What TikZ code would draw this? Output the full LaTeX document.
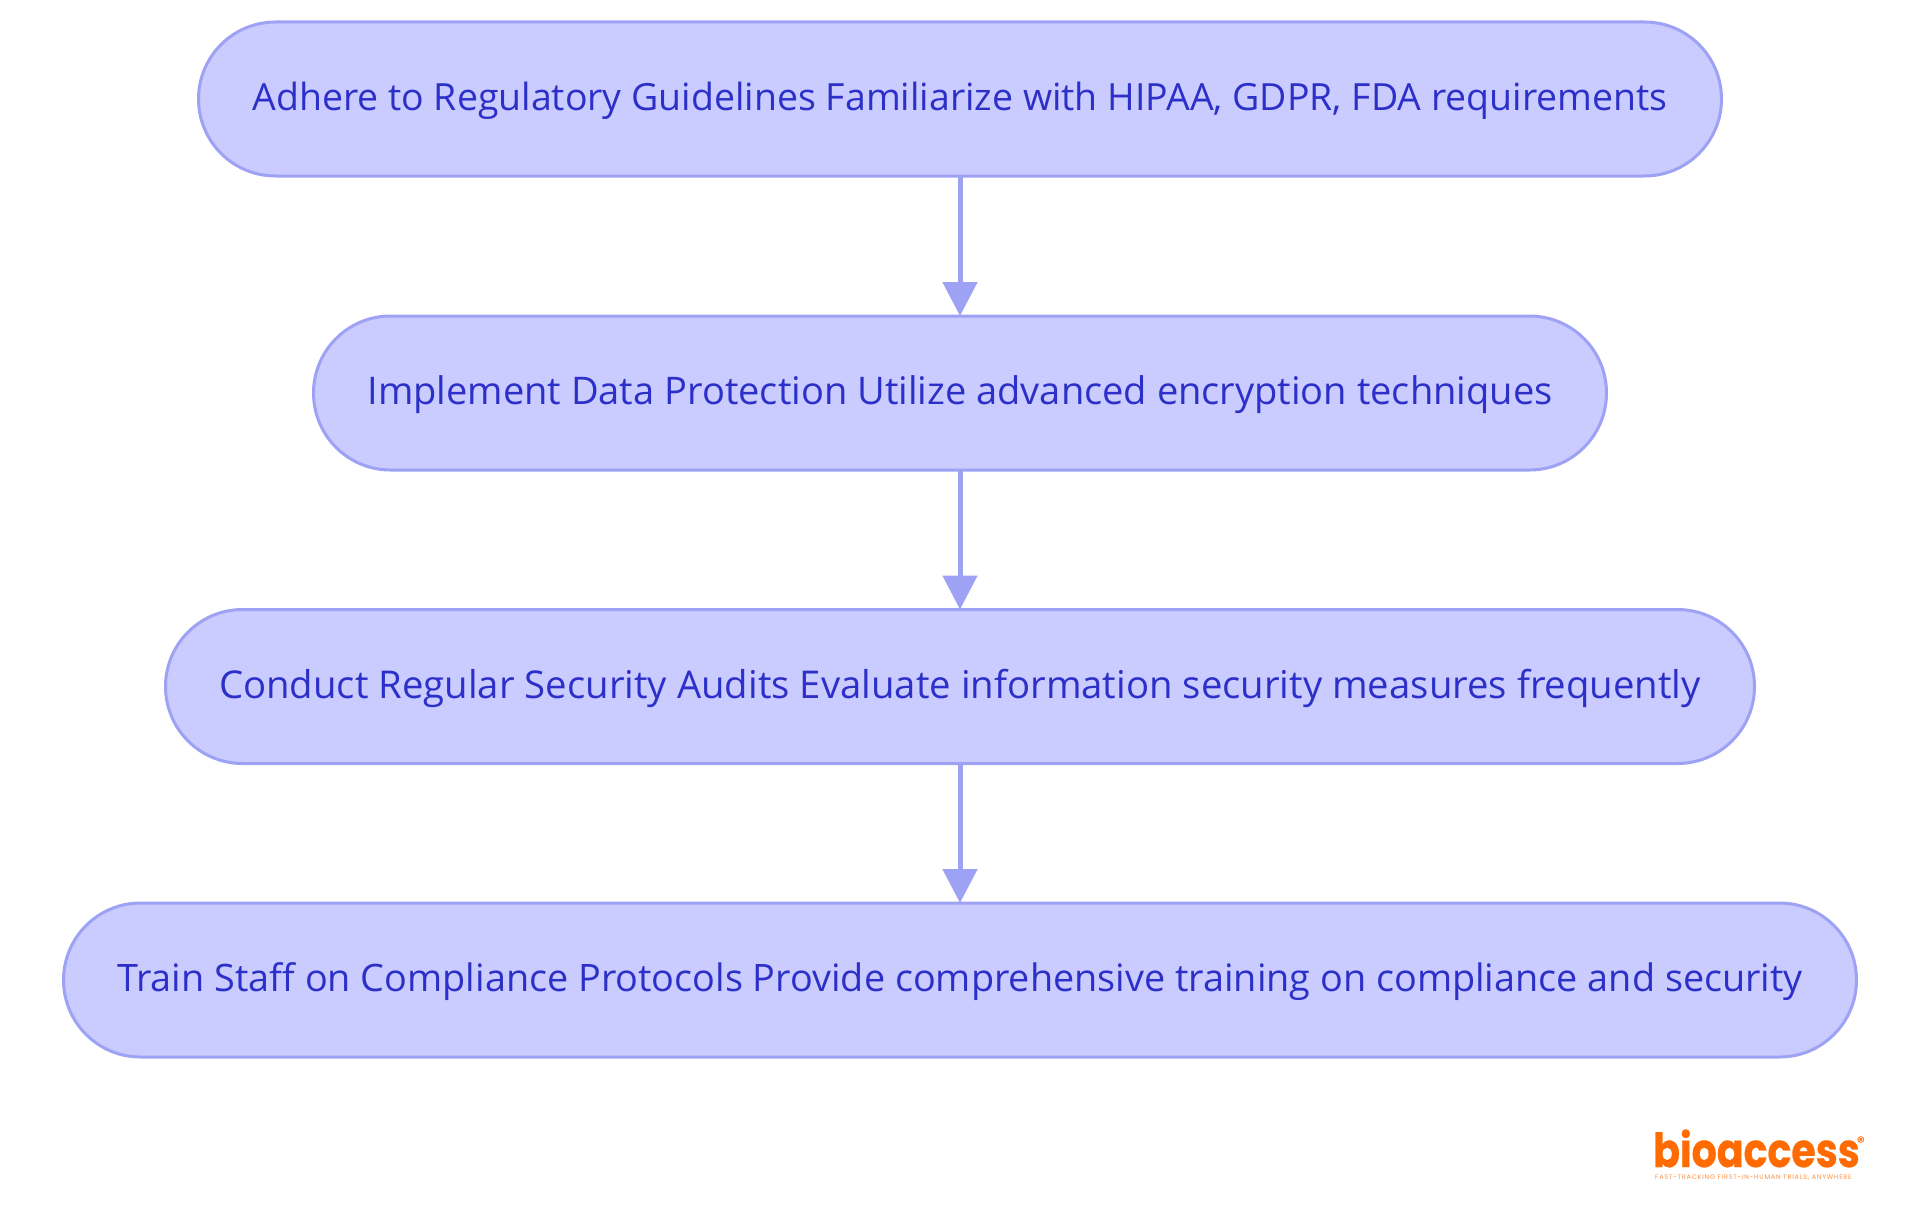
\documentclass[tikz,border=0pt]{standalone}
\usepackage{fontspec}
\setmainfont{Open Sans}
\newfontfamily\logofont[FakeStretch=0.84,BoldFeatures={FakeStretch=0.84,FakeBold=0.6}]{Poppins}
\newfontfamily\tagfont[LetterSpace=12]{Poppins}
\newfontfamily\regfont{Poppins}
\usetikzlibrary{arrows.meta,shapes.misc}
\definecolor{stadfill}{HTML}{CACBFE}
\definecolor{stadline}{HTML}{9EA2F4}
\definecolor{stadtext}{HTML}{2C30C8}
\definecolor{logoorange}{HTML}{FF6B00}
\tikzset{
  stad/.style={shape=rounded rectangle,rounded rectangle arc length=180,draw=stadline,fill=stadfill,line width=3pt,
    text=stadtext,outer sep=0pt,inner sep=0pt,minimum height=154pt,
    text height=28pt,text depth=5pt},
  stadsize/.style={font=\fontsize{#1}{45}\selectfont},
  flow/.style={draw=stadline,line width=5pt,-{Triangle[length=34pt,width=34pt,fill=stadline]},shorten >=0pt}
}
\begin{document}
\begin{tikzpicture}[x=1pt,y=-1pt]
\useasboundingbox (0,0) rectangle (1920,1215);
\fill[white] (0,0) rectangle (1920,1215);
\node[stad,stadsize=37.45,minimum width=1523pt] (n1) at (960,99) {Adhere to Regulatory Guidelines Familiarize with HIPAA, GDPR, FDA requirements};
\node[stad,stadsize=38.05,minimum width=1293pt] (n2) at (960,393) {Implement Data Protection Utilize advanced encryption techniques};
\node[stad,stadsize=38.3,minimum width=1589pt] (n3) at (960,686.5) {Conduct Regular Security Audits Evaluate information security measures frequently};
\node[stad,stadsize=37.8,minimum width=1793pt] (n4) at (960,980) {Train Staff on Compliance Protocols Provide comprehensive training on compliance and security};
\draw[flow] (n1.south) -- (n2.north);
\draw[flow] (n2.south) -- (n3.north);
\draw[flow] (n3.south) -- (n4.north);
\node[inner sep=0pt,text=logoorange,font=\logofont\bfseries\fontsize{47}{50}\selectfont,anchor=base west] (logo) at (1653,1167) {bioaccess};
\node[inner sep=0pt,text=logoorange!75!white,font=\tagfont\fontsize{6.5}{7}\selectfont,anchor=base west] (tag) at (1655,1179) {FAST-TRACKING FIRST-IN-HUMAN TRIALS, ANYWHERE};
\node[inner sep=0pt,text=logoorange,font=\regfont\bfseries\fontsize{15}{15}\selectfont] (reg) at (1861,1142) {®};
\end{tikzpicture}
\end{document}
